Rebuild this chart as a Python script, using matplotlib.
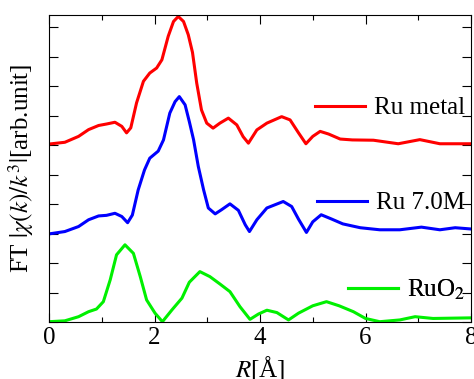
import numpy as np
import matplotlib
matplotlib.use('Agg')
import matplotlib.pyplot as plt
from matplotlib.ticker import MultipleLocator, NullFormatter

plt.rcParams['font.family'] = ['Liberation Serif', 'DejaVu Serif']
plt.rcParams['mathtext.fontset'] = 'stix'

# FT magnitudes (offsets added when plotting)
r_metal = [0, 0.30, 0.56, 0.75, 0.94, 1.09, 1.25, 1.38, 1.47, 1.55, 1.66, 1.79, 1.91, 2.04,
           2.14, 2.26, 2.36, 2.45, 2.55, 2.64, 2.72, 2.80, 2.89, 2.99, 3.11, 3.24, 3.40,
           3.56, 3.68, 3.78, 3.94, 4.13, 4.41, 4.57, 4.73, 4.87, 5.00, 5.14, 5.30, 5.52,
           5.75, 6.15, 6.62, 7.03, 7.41, 7.98]
ft_metal = [0.04, 0.10, 0.30, 0.53, 0.67, 0.72, 0.78, 0.64, 0.42, 0.59, 1.44, 2.17, 2.45, 2.62,
            2.90, 3.70, 4.20, 4.37, 4.20, 3.75, 3.15, 2.11, 1.20, 0.75, 0.58, 0.75, 0.92,
            0.69, 0.29, 0.07, 0.52, 0.75, 0.97, 0.86, 0.42, 0.05, 0.30, 0.47, 0.38, 0.21,
            0.18, 0.17, 0.05, 0.19, 0.05, 0.05]

r_70m = [0, 0.30, 0.56, 0.75, 0.94, 1.09, 1.25, 1.38, 1.49, 1.58, 1.69, 1.81, 1.91, 2.07,
         2.17, 2.29, 2.39, 2.47, 2.58, 2.66, 2.74, 2.83, 2.93, 3.02, 3.15, 3.27, 3.43,
         3.59, 3.72, 3.80, 3.94, 4.13, 4.44, 4.60, 4.73, 4.88, 5.00, 5.16, 5.35, 5.57,
         5.90, 6.27, 6.65, 7.06, 7.41, 7.70, 7.98]
ft_70m = [-0.01, 0.07, 0.24, 0.47, 0.60, 0.62, 0.69, 0.58, 0.37, 0.63, 1.48, 2.16, 2.56, 2.80,
          3.18, 4.09, 4.48, 4.65, 4.37, 3.80, 3.19, 2.28, 1.49, 0.87, 0.67, 0.81, 1.01,
          0.79, 0.30, 0.07, 0.47, 0.87, 1.09, 0.92, 0.49, 0.04, 0.40, 0.64, 0.50, 0.33,
          0.20, 0.13, 0.13, 0.22, 0.13, 0.20, 0.16]

r_ruo2 = [0, 0.30, 0.56, 0.75, 0.90, 1.03, 1.16, 1.28, 1.44, 1.60, 1.73, 1.85, 2.01, 2.15,
          2.33, 2.52, 2.66, 2.86, 3.05, 3.24, 3.43, 3.62, 3.81, 3.97, 4.13, 4.32, 4.54,
          4.73, 5.00, 5.26, 5.50, 5.77, 6.00, 6.27, 6.65, 6.94, 7.28, 7.98]
ft_ruo2 = [0.01, 0.04, 0.18, 0.35, 0.44, 0.69, 1.43, 2.28, 2.62, 2.33, 1.54, 0.75, 0.30, 0.01,
           0.41, 0.81, 1.35, 1.71, 1.54, 1.29, 1.03, 0.52, 0.09, 0.27, 0.40, 0.32, 0.07,
           0.30, 0.55, 0.69, 0.55, 0.35, 0.12, 0.01, 0.07, 0.18, 0.12, 0.14]

labels = ['Ru metal', 'Ru 7.0M', r'RuO$_2$']
offsets = [6, 3, 0]
colors = ['#ff0000', '#0000ff', '#00f000']

fig = plt.figure(figsize=(4.74, 3.79), dpi=100)
ax = fig.add_axes([0.1034, 0.1504, 0.8903, 0.81])

series = [(r_metal, ft_metal), (r_70m, ft_70m), (r_ruo2, ft_ruo2)]
lines = []
for (r, ft), off, c, lab in zip(series, offsets, colors, labels):
    ln, = ax.plot(r, np.array(ft) + off, color=c, lw=2.2, label=lab,
                  solid_joinstyle='round')
    lines.append(ln)

ax.set_xlim(0, 8)
ax.set_ylim(0, 10.42)
ax.xaxis.set_major_locator(MultipleLocator(2))
ax.xaxis.set_minor_locator(MultipleLocator(1))
ax.yaxis.set_major_locator(MultipleLocator(1))
ax.yaxis.set_major_formatter(NullFormatter())
ax.tick_params(which='both', direction='in', top=True, right=True, labelsize=18)
ax.tick_params(which='major', length=6.5, width=0.8)
ax.tick_params(which='minor', length=3.5, width=0.8)
for s in ax.spines.values():
    s.set_linewidth(0.8)

ax.set_xlabel(r'$R$[Å]', fontsize=18, labelpad=4)
ax.set_ylabel(r'FT $|\chi(k)/k^3|$[arb.unit]', fontsize=18, labelpad=6)

# one legend per curve, right-aligned next to it
ypos = [(322 - 108) / 307, (322 - 203) / 307, (322 - 290) / 307]
for ln, yp in zip(lines, ypos):
    leg = ax.legend(handles=[ln], loc='center right', bbox_to_anchor=(0.986, yp),
                    frameon=False, fontsize=18, handlelength=2.0, handletextpad=0.35,
                    borderpad=0.0, borderaxespad=0.0)
    ax.add_artist(leg)

fig.savefig('out.png', dpi=100)
